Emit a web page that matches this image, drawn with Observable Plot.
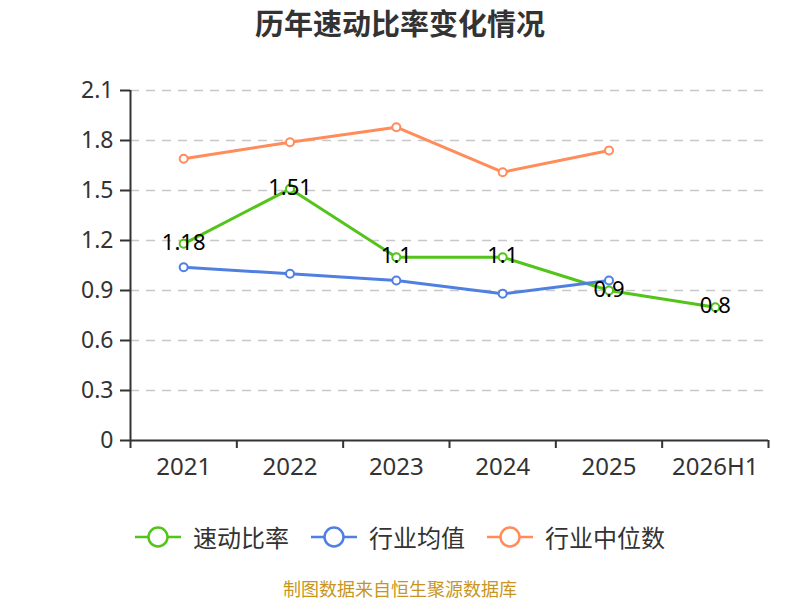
<!DOCTYPE html>
<html><head><meta charset="utf-8">
<script src="https://cdn.jsdelivr.net/npm/d3@7"></script>
<script src="https://cdn.jsdelivr.net/npm/@observablehq/plot@0.6"></script>
<style>
body{margin:0;background:#fff;font-family:"Noto Sans CJK SC","Noto Sans",sans-serif;}
#wrap{position:relative;width:800px;height:600px;}
#title{position:absolute;top:0;left:0;width:800px;text-align:center;font-size:29px;font-weight:bold;color:#333;line-height:44px;}
#chart{position:absolute;top:50px;left:0;}
#legend{position:absolute;top:520px;left:0;width:800px;display:flex;justify-content:center;gap:22px;font-size:24px;color:#333;line-height:34px;}
.item{display:flex;align-items:center;gap:12px;}
#caption{position:absolute;top:579px;left:0;width:800px;text-align:center;font-size:18px;color:#c8961e;line-height:19px;}
</style></head>
<body>
<div id="wrap">
<div id="title">历年速动比率变化情况</div>
<div id="chart"></div>
<div id="legend"></div>
<div id="caption">制图数据来自恒生聚源数据库</div>
</div>
<script>
const categories = ["2021","2022","2023","2024","2025","2026H1"];
const quickRatio = [1.18,1.51,1.1,1.1,0.9,0.8];
const industryMean = [1.04,1.00,0.96,0.88,0.96,null];
const industryMedian = [1.69,1.79,1.88,1.61,1.74,null];
const yTicks = [0,0.3,0.6,0.9,1.2,1.5,1.8,2.1];
const seriesNames = ["速动比率","行业均值","行业中位数"];
const seriesColors = ["#52c41a","#4f80e1","#ff8c5a"];

const seriesValues = [quickRatio, industryMean, industryMedian];
const rows = [];
seriesValues.forEach((vals, s) => {
  vals.forEach((v, i) => {
    if (v != null) rows.push({series: seriesNames[s], x: i + 0.5, value: v});
  });
});
const quickRows = rows.filter(d => d.series === seriesNames[0]);
const boundaries = d3.range(categories.length + 1);
const centers = categories.map((c, i) => i + 0.5);

const chart = Plot.plot({
  width: 800,
  height: 455,
  marginTop: 40,
  marginBottom: 65,
  marginLeft: 130,
  marginRight: 32,
  style: {fontFamily: '"Noto Sans","Noto Sans CJK SC",sans-serif', color: "#333", background: "transparent", overflow: "visible"},
  x: {domain: [0, categories.length]},
  y: {domain: [0, 2.1]},
  color: {domain: seriesNames, range: seriesColors},
  marks: [
    Plot.gridY({ticks: yTicks.filter(d => d > 0), stroke: "#c8c8c8", strokeOpacity: 1, strokeDasharray: "9,7", strokeWidth: 1.5}),
    Plot.axisY({ticks: yTicks, tickSize: 10, tickPadding: 7, fontSize: 23, strokeWidth: 2, label: null,
      tickFormat: d => String(+d.toFixed(1))}),
    Plot.axisX({ticks: boundaries, tickSize: 8, tickFormat: () => "", strokeWidth: 2, label: null}),
    Plot.axisX({ticks: centers, tickSize: 0, tickPadding: 17, fontSize: 24, label: null,
      tickFormat: d => categories[Math.floor(d)]}),
    Plot.ruleX([0], {stroke: "#333", strokeWidth: 2}),
    Plot.ruleY([0], {stroke: "#333", strokeWidth: 2}),
    Plot.line(rows, {x: "x", y: "value", z: "series", stroke: "series", strokeWidth: 3}),
    Plot.dot(rows, {x: "x", y: "value", stroke: "series", fill: "white", r: 4, strokeWidth: 2}),
    Plot.text(quickRows, {x: "x", y: "value", text: d => String(d.value), fontSize: 22, fill: "black", dy: -1})
  ]
});
document.getElementById("chart").appendChild(chart);

const legend = document.getElementById("legend");
seriesNames.forEach((name, i) => {
  const item = document.createElement("div");
  item.className = "item";
  item.innerHTML = `<svg width="46" height="24"><line x1="0" y1="12" x2="46" y2="12" stroke="${seriesColors[i]}" stroke-width="2.5"/><circle cx="23" cy="12" r="9.5" fill="white" stroke="${seriesColors[i]}" stroke-width="2.5"/></svg><span>${name}</span>`;
  legend.appendChild(item);
});
</script>
</body></html>
